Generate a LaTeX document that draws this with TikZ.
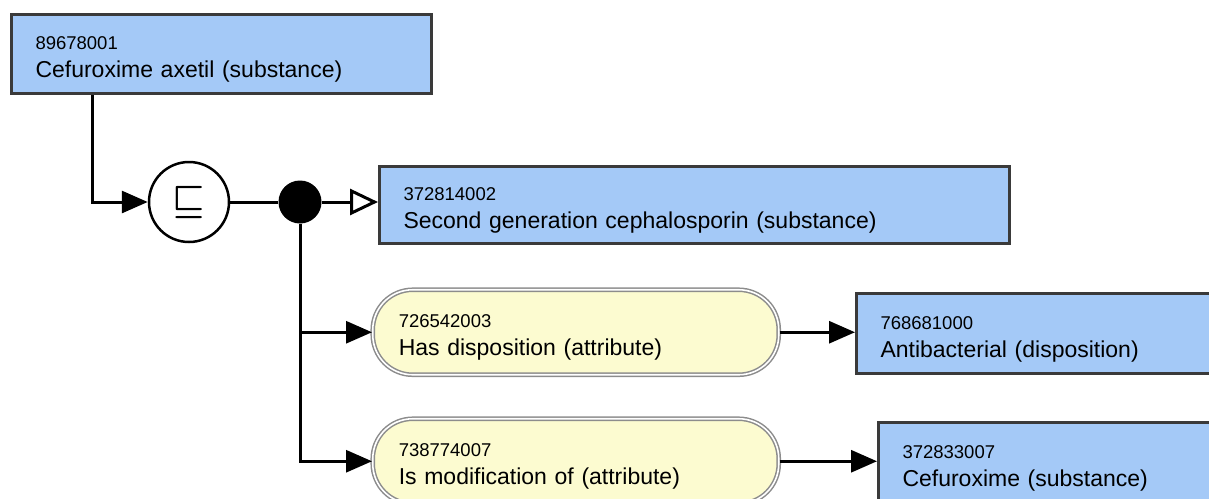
\documentclass[tikz,border=0pt]{standalone}
\usepackage{fontspec}
\setmainfont{Liberation Sans}
\usetikzlibrary{arrows.meta}

\definecolor{conceptblue}{RGB}{164,201,247}
\definecolor{attryellow}{RGB}{252,251,208}
\definecolor{boxline}{RGB}{58,58,58}

\newcommand{\sctlabel}[2]{\rule{0pt}{24pt}{\fontsize{18.5}{20}\selectfont #1}\\{#2}}

\tikzset{
  concept/.style={draw=boxline, line width=3pt, fill=conceptblue, anchor=north west,
    inner xsep=24pt, inner ysep=0pt, align=left, font=\fontsize{23}{28}\selectfont},
  attribute/.style={draw=gray!90, double=white, double distance=1.6pt, line width=1.5pt,
    fill=attryellow, rounded corners=40pt, anchor=north west,
    inner xsep=26pt, inner ysep=0pt, align=left, font=\fontsize{23}{28}\selectfont},
  conn/.style={line width=3pt, draw=black},
  arr/.style={conn, -{Triangle[length=26pt,width=22pt]}},
  isa/.style={conn, -{Triangle[open,length=28pt,width=26pt,fill=white]}},
}

\begin{document}
\begin{tikzpicture}[x=1pt,y=-1pt]

\useasboundingbox (0,0) rectangle (1209,498);
\clip (0,0) rectangle (1209,498);

% focus concept
\node[concept, text width=372pt, minimum height=79pt] (focus) at (10,13)
  {\sctlabel{89678001}{Cefuroxime axetil (substance)}};

% definition status and conjunction
\node[circle, draw, line width=2.5pt, fill=white, minimum size=80pt, inner sep=0pt] (defn) at (189,202)
  {\scalebox{3.6}{\boldmath$\sqsubseteq$}};
\node[circle, fill=black, minimum size=43pt, inner sep=0pt] (conj) at (300,202) {};

% parent
\node[concept, text width=582pt, minimum height=77pt] (parent) at (378,165)
  {\sctlabel{372814002}{Second generation cephalosporin (substance)}};

% attributes
\node[attribute, text width=354pt, minimum height=85pt] (attrA) at (372,289)
  {\sctlabel{726542003}{Has disposition (attribute)}};
\node[attribute, text width=354pt, minimum height=85pt] (attrB) at (372,418)
  {\sctlabel{738774007}{Is modification of (attribute)}};

% values
\node[concept, text width=372pt, minimum height=80pt] (valA) at (855,292)
  {\sctlabel{768681000}{Antibacterial (disposition)}};
\node[concept, text width=372pt, minimum height=80pt] (valB) at (877,421)
  {\sctlabel{372833007}{Cefuroxime (substance)}};

% connectors
\draw[arr] ([xshift=82pt]focus.south west) |- (defn.west);
\draw[conn] (defn) -- (conj);
\draw[isa] (conj) -- (conj -| parent.west);
\draw[arr] (conj) |- (attrA.west);
\draw[arr] (conj) |- (attrB.west);
\draw[arr] (attrA) -- (attrA -| valA.west);
\draw[arr] (attrB) -- (attrB -| valB.west);

\end{tikzpicture}
\end{document}
